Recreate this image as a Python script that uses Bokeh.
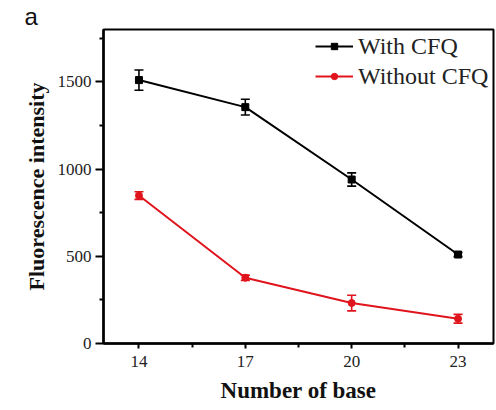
from bokeh.plotting import figure
from bokeh.models import ColumnDataSource, Whisker, TeeHead, FixedTicker, Title
from bokeh.embed import file_html
from bokeh.resources import INLINE

# data
bases = [14, 17, 20, 23]
with_cfq = [1510, 1355, 940, 510]
with_cfq_err = [58, 45, 38, 12]
without_cfq = [848, 377, 232, 142]
without_cfq_err = [22, 15, 45, 25]
x_ticks = [14, 17, 20, 23]
x_minor = [15.5, 18.5, 21.5]
y_ticks = [0, 500, 1000, 1500]
y_minor = [250, 750, 1250, 1750]

RED = "#e0141c"
SERIF = "Liberation Serif"

p = figure(width=496, height=410, x_range=(13, 24), y_range=(0, 1800),
           output_backend="svg", toolbar_location=None,
           min_border_left=103, min_border_right=3, min_border_top=28, min_border_bottom=67)
p.xgrid.visible = False
p.ygrid.visible = False
p.outline_line_color = "black"
p.outline_line_width = 2
p.outline_line_alpha = 1

src1 = ColumnDataSource(dict(x=bases, y=with_cfq,
                             lo=[v - e for v, e in zip(with_cfq, with_cfq_err)],
                             hi=[v + e for v, e in zip(with_cfq, with_cfq_err)]))
src2 = ColumnDataSource(dict(x=bases, y=without_cfq,
                             lo=[v - e for v, e in zip(without_cfq, without_cfq_err)],
                             hi=[v + e for v, e in zip(without_cfq, without_cfq_err)]))

for src, col in ((src1, "black"), (src2, RED)):
    w = Whisker(source=src, base="x", upper="hi", lower="lo",
                line_color=col, line_width=1.6,
                upper_head=TeeHead(size=9, line_color=col, line_width=1.6),
                lower_head=TeeHead(size=9, line_color=col, line_width=1.6))
    p.add_layout(w)

p.line("x", "y", source=src1, line_color="black", line_width=2, legend_label="With CFQ")
p.scatter("x", "y", source=src1, marker="square", size=7, color="black", legend_label="With CFQ")
p.line("x", "y", source=src2, line_color=RED, line_width=2, legend_label="Without CFQ")
p.scatter("x", "y", source=src2, marker="circle", size=7, color=RED, legend_label="Without CFQ")

# axes
p.xaxis.ticker = FixedTicker(ticks=x_ticks, minor_ticks=x_minor)
p.yaxis.ticker = FixedTicker(ticks=y_ticks, minor_ticks=y_minor)
for ax in (p.xaxis[0], p.yaxis[0]):
    ax.axis_line_width = 2.5
    ax.axis_line_color = "black"
    ax.major_tick_line_color = "black"
    ax.minor_tick_line_color = "black"
    ax.major_tick_line_width = 2
    ax.minor_tick_line_width = 2
    ax.major_tick_in = 0
    ax.minor_tick_in = 0
    ax.major_label_text_font = SERIF
    ax.major_label_text_font_size = "17px"
    ax.major_label_text_color = "#222222"
    ax.axis_label_text_font = SERIF
    ax.axis_label_text_font_style = "bold"
    ax.axis_label_text_color = "#111111"

p.yaxis.major_tick_out = 8
p.yaxis.minor_tick_out = 4
p.yaxis.major_label_standoff = 4
p.yaxis.axis_label = "Fluorescence intensity"
p.yaxis.axis_label_text_font_size = "22px"
p.yaxis.axis_label_standoff = 6

p.xaxis.major_tick_out = 5
p.xaxis.minor_tick_out = 4
p.xaxis.major_label_standoff = 7
p.xaxis.axis_label = "Number of base"
p.xaxis.axis_label_text_font_size = "23px"
p.xaxis.axis_label_standoff = 8

# legend
lg = p.legend[0]
lg.location = (212, 252)
lg.border_line_color = None
lg.background_fill_alpha = 0
lg.padding = 0
lg.margin = 0
lg.spacing = 0
lg.glyph_width = 38
lg.glyph_height = 16
lg.label_height = 30
lg.label_standoff = 5
lg.label_text_font = SERIF
lg.label_text_font_size = "24px"
lg.label_text_color = "#222222"

p.add_layout(Title(text="a", align="left", offset=-79, standoff=0,
                   text_font="Liberation Sans", text_font_size="24px",
                   text_font_style="normal", text_color="#111111"), "above")

open("out.html", "w").write(file_html(p, INLINE))
